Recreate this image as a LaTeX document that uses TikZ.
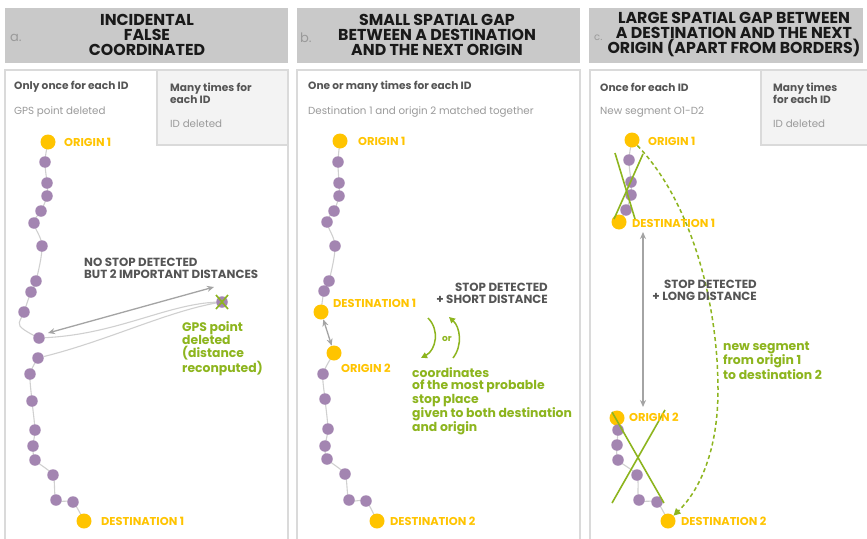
\documentclass[tikz,border=0pt]{standalone}
\usepackage{fontspec}
\setmainfont{Poppins}
\usetikzlibrary{arrows.meta}
\definecolor{gaphead}{HTML}{C9C9C9}
\definecolor{gapline}{HTML}{DADADA}
\definecolor{gapbox}{HTML}{F3F3F3}
\definecolor{gapdark}{HTML}{555555}
\definecolor{gaplight}{HTML}{9A9A9A}
\definecolor{gapyellow}{HTML}{FFC400}
\definecolor{gappurple}{HTML}{A385B1}
\definecolor{gapgreen}{HTML}{8DB51E}
\definecolor{gaparrow}{HTML}{A4A4A4}
\definecolor{gaptrack}{HTML}{D0D0D0}
\pgfdeclarelayer{back}
\pgfsetlayers{back,main}

\begin{document}
\begin{tikzpicture}[x=1pt,y=-1pt,
  panel/.style={draw=gapline,line width=1.4pt,fill=white},
  sidebox/.style={draw=gapline,line width=1.2pt,fill=gapbox},
  title/.style={align=center,inner sep=0pt,text=black!90,font=\bfseries\fontsize{15.8}{15}\selectfont},
  letter/.style={anchor=west,inner sep=0pt,text=gaplight,font=\fontsize{13}{14}\selectfont},
  rule/.style={anchor=west,inner sep=0pt,align=left,text=gapdark,font=\bfseries\fontsize{10.6}{12}\selectfont},
  effect/.style={anchor=west,inner sep=0pt,text=gaplight,font=\fontsize{10.3}{11}\selectfont},
  ptdot/.style={circle,fill=gappurple,inner sep=0pt,minimum size=11.5pt},
  enddot/.style={circle,fill=gapyellow,inner sep=0pt,minimum size=15pt},
  endlbl/.style={anchor=west,inner sep=0pt,text=gapyellow,font=\bfseries\fontsize{11.4}{12}\selectfont},
  remark/.style={inner sep=0pt,align=left,text=gapdark,font=\bfseries\fontsize{11.8}{12}\selectfont},
  note/.style={anchor=west,inner sep=0pt,align=left,text=gapgreen,font=\bfseries\fontsize{12.4}{12.3}\selectfont},
  track/.style={draw=gaptrack,line width=1.1pt},
  gap/.style={draw=gaparrow,line width=1.3pt,{Stealth[length=7pt,width=6pt]}-{Stealth[length=7pt,width=6pt]}},
  cross/.style={draw=gapgreen,line width=1.6pt},
  swap/.style={draw=gapgreen,line width=1.5pt,-{Triangle[length=6pt,width=6pt]}}]
  \useasboundingbox (0,0) rectangle (867,538);

  % panels
  \begin{pgfonlayer}{back}
    \fill[gaphead] (5,8) rectangle (288,63);
    \fill[gaphead] (297,8) rectangle (580,63);
    \fill[gaphead] (589,8) rectangle (863,63);
    \draw[panel] (5,70) rectangle (288,545);
    \draw[panel] (297,70) rectangle (580,545);
    \draw[panel] (590,70) rectangle (870,545);
    \draw[sidebox] (157,70) rectangle (288,145);
    \draw[sidebox] (761,70) rectangle (870,145);
  \end{pgfonlayer}

  \node[letter] (la) at (10,38) {a.};
  \node[title] (ta) at (147,35) {INCIDENTAL\\FALSE\\COORDINATED};
  \node[letter] (lb) at (300,38) {b.};
  \node[title] (tb) at (437,35) {SMALL SPATIAL GAP\\BETWEEN A DESTINATION\\AND THE NEXT ORIGIN};
  \node[letter,font=\fontsize{10}{11}\selectfont] (lc) at (594,38) {c.};
  \node[title] (tc) at (734,35) {LARGE SPATIAL GAP BETWEEN\\A DESTINATION AND THE NEXT\\ORIGIN (APART FROM BORDERS)};

  \node[rule] (ra1) at (14,87) {Only once for each ID};
  \node[effect] (ea1) at (14,112) {GPS point deleted};
  \node[rule] (ra2) at (170,93) {Many times for\\each ID};
  \node[effect] (ea2) at (170,124) {ID deleted};
  \node[rule] (rb1) at (308,87) {One or many times for each ID};
  \node[effect] (eb1) at (308,112) {Destination 1 and origin 2 matched together};
  \node[rule] (rc1) at (600,87) {Once for each ID};
  \node[effect] (ec1) at (600,112) {New segment O1-D2};
  \node[rule] (rc2) at (773,93) {Many times\\for each ID};
  \node[effect] (ec2) at (773,124) {ID deleted};

  % a. incidental false point
  \node[enddot] (oa1) at (48,142) {};
  \foreach \x/\y [count=\i] in {45/162,47/183,47/196,41/211,34/223,42/246,36/281,31/292,24/312,39/338}
    \node[ptdot] (a\i) at (\x,\y) {};
  \node[ptdot] (ax) at (222,302) {};
  \foreach \x/\y [count=\i from 11] in {38/358,30/374,32/401,35/430,33/446,35/460,53/475,56/500,73/502}
    \node[ptdot] (a\i) at (\x,\y) {};
  \node[enddot] (da1) at (84,521) {};
  \begin{pgfonlayer}{back}
    \draw[track] plot[smooth,tension=0.6] coordinates {(oa1) (a1) (a2) (a3) (a4) (a5) (a6) (a7) (a8) (a9) (20,326) (a10)};
    \draw[track] (a10) .. controls (120,334) and (170,302) .. (ax.center)
      .. controls (170,310) and (110,340) .. (a11);
    \draw[track] plot[smooth,tension=0.4] coordinates {(a11) (a12) (a13) (a14) (a15) (a16) (a17) (a18) (a19) (da1)};
  \end{pgfonlayer}
  \draw[cross] ([shift={(-6,-7)}]ax.center) -- ([shift={(6,7)}]ax.center);
  \draw[cross] ([shift={(6,-7)}]ax.center) -- ([shift={(-6,7)}]ax.center);
  \coordinate (ga) at (214,287);
  \draw[gap] (48,333) -- (ga);
  \node[endlbl] (loa1) at (64,142) {ORIGIN 1};
  \node[endlbl] (lda1) at (101,521) {DESTINATION 1};
  \node[remark,anchor=west] (ma) at (84,268) {NO STOP DETECTED\\BUT 2 IMPORTANT DISTANCES};
  \node[note] (na) at (182,348.5) {GPS point\\deleted\\(distance\\reconputed)};

  % b. small spatial gap
  \node[enddot] (ob1) at (340,141) {};
  \foreach \x/\y [count=\i] in {338/162,339/183,339/196,334/211,327/222,335/246,329/281,324/291}
    \node[ptdot] (b\i) at (\x,\y) {};
  \node[enddot] (db1) at (321,312) {};
  \node[enddot] (ob2) at (334,353) {};
  \foreach \x/\y [count=\i from 9] in {323/374,325/399,328/429,325/446,327/459,345/474,349/500,366/501}
    \node[ptdot] (b\i) at (\x,\y) {};
  \node[enddot] (db2) at (377,521) {};
  \begin{pgfonlayer}{back}
    \draw[track] plot[smooth,tension=0.6] coordinates {(ob1) (b1) (b2) (b3) (b4) (b5) (b6) (b7) (b8) (db1)};
    \draw[track] plot[smooth,tension=0.4] coordinates {(ob2) (b9) (b10) (b11) (b12) (b13) (b14) (b15) (b16) (db2)};
  \end{pgfonlayer}
  \draw[gap] (db1) -- (ob2);
  \node[endlbl] (lob1) at (358,141) {ORIGIN 1};
  \node[endlbl] (ldb1) at (333,303) {DESTINATION 1};
  \node[endlbl] (lob2) at (341,368) {ORIGIN 2};
  \node[endlbl] (ldb2) at (390,521) {DESTINATION 2};
  \node[remark,anchor=east,align=right] (mb) at (548,293) {STOP DETECTED\\+ SHORT DISTANCE};
  \node[text=gapgreen,font=\bfseries\fontsize{9}{10}\selectfont] (orb) at (447,339) {or};
  \coordinate (sb1) at (428,318);
  \coordinate (sb2) at (421,358);
  \coordinate (sb3) at (453,358);
  \coordinate (sb4) at (449,317);
  \draw[swap] (sb1) .. controls (440,330) and (436,350) .. (sb2);
  \draw[swap] (sb3) .. controls (463,345) and (460,327) .. (sb4);
  \node[note] (nb) at (412,401.5) {coordinates\\of the most probable\\stop place\\given to both destination\\and origin};

  % c. large spatial gap
  \node[enddot] (oc1) at (632,140) {};
  \foreach \x/\y [count=\i] in {629/160,631/182,631/195,626/210}
    \node[ptdot] (c\i) at (\x,\y) {};
  \node[enddot] (dc1) at (619,222) {};
  \node[enddot] (oc2) at (617,418) {};
  \foreach \x/\y [count=\i from 5] in {618/430,617/445,618/460,637/475,639/500,657/502}
    \node[ptdot] (c\i) at (\x,\y) {};
  \node[enddot] (dc2) at (668,521) {};
  \begin{pgfonlayer}{back}
    \draw[track] plot[smooth,tension=0.6] coordinates {(oc1) (c1) (c2) (c3) (c4) (dc1)};
    \draw[track] plot[smooth,tension=0.4] coordinates {(oc2) (c5) (c6) (c7) (c8) (c9) (c10) (dc2)};
  \end{pgfonlayer}
  \draw[cross] (615,153) -- (635,219);
  \draw[cross] (643,154) -- (614,219);
  \draw[cross] (612,412) -- (664,503);
  \draw[cross] (665,410) -- (612,503);
  \coordinate (gc1) at (643,232);
  \coordinate (gc2) at (643,407);
  \draw[gap] (gc1) -- (gc2);
  \draw[draw=gapgreen,line width=1.5pt,dash pattern=on 4pt off 3pt,-{Triangle[length=7pt,width=7pt]}]
    (oc1) .. controls (690,200) and (718,300) .. (718,390)
    .. controls (718,450) and (700,490) .. (dc2);
  \node[endlbl] (loc1) at (648,141) {ORIGIN 1};
  \node[endlbl] (ldc1) at (632,223) {DESTINATION 1};
  \node[endlbl] (loc2) at (629,417) {ORIGIN 2};
  \node[endlbl] (ldc2) at (681,521) {DESTINATION 2};
  \node[remark,anchor=east,align=right] (mc) at (757,290) {STOP DETECTED\\+ LONG DISTANCE};
  \node[note] (nc) at (723,360.5) {new segment\\from origin 1\\to destination 2};
\end{tikzpicture}
\end{document}
